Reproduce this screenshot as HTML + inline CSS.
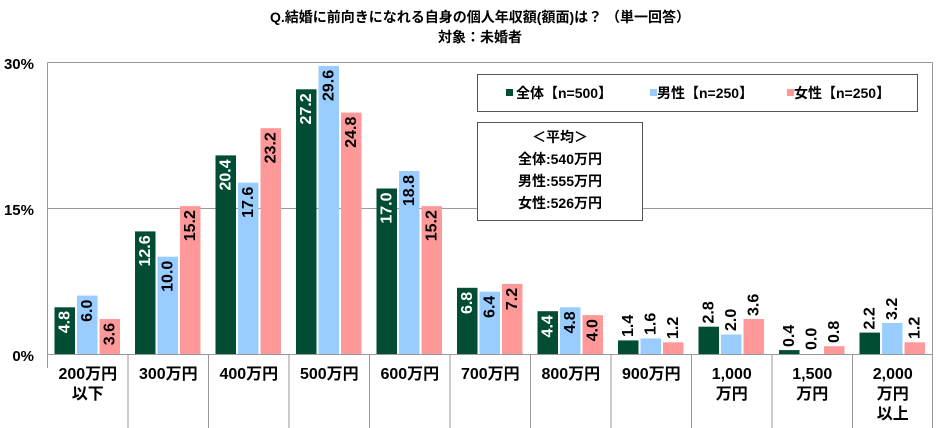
<!DOCTYPE html>
<html><head><meta charset="utf-8"><style>
body{margin:0;background:#fff}
svg{display:block;font-family:"Liberation Sans","Noto Sans CJK JP",sans-serif}
.v{font-size:16px;font-weight:bold}
.w{fill:#fff}.d{fill:#000}
.c{font-size:16px;font-weight:bold;text-anchor:middle}
</style></head><body>
<svg width="940" height="428" viewBox="0 0 940 428">
<text x="480" y="22" font-size="14" font-weight="bold" text-anchor="middle">Q.結婚に前向きになれる自身の個人年収額(額面)は？ （単一回答）</text>
<text x="480" y="42" font-size="14" font-weight="bold" text-anchor="middle">対象：未婚者</text>
<g stroke="#999" stroke-width="1">
<line x1="47.5" y1="62.5" x2="932.5" y2="62.5"/>
<line x1="47.5" y1="208.5" x2="932.5" y2="208.5"/>
<line x1="932.5" y1="62.5" x2="932.5" y2="354"/>
<line x1="47.5" y1="62.5" x2="47.5" y2="368"/>
<line x1="47.5" y1="354.5" x2="932.5" y2="354.5"/>
<line x1="128" y1="354" x2="128" y2="428"/><line x1="208.5" y1="354" x2="208.5" y2="428"/><line x1="289" y1="354" x2="289" y2="428"/><line x1="369.5" y1="354" x2="369.5" y2="428"/><line x1="450" y1="354" x2="450" y2="428"/><line x1="530.5" y1="354" x2="530.5" y2="428"/><line x1="611" y1="354" x2="611" y2="428"/><line x1="691.5" y1="354" x2="691.5" y2="428"/><line x1="772" y1="354" x2="772" y2="428"/><line x1="852.5" y1="354" x2="852.5" y2="428"/><line x1="932.5" y1="354" x2="932.5" y2="428"/>
</g>
<g font-size="15" font-weight="bold" text-anchor="end"><text x="34" y="69">30%</text><text x="34" y="215">15%</text><text x="34" y="361">0%</text></g>
<g>
<rect x="54.5" y="307.3" width="20.5" height="46.7" fill="#004d33"/><rect x="77" y="295.6" width="20.5" height="58.4" fill="#99ccff"/><rect x="99.5" y="319" width="20.5" height="35" fill="#ff9999"/>
<rect x="135" y="231.4" width="20.5" height="122.6" fill="#004d33"/><rect x="157.5" y="256.7" width="20.5" height="97.3" fill="#99ccff"/><rect x="180" y="206.1" width="20.5" height="147.9" fill="#ff9999"/>
<rect x="215.5" y="155.4" width="20.5" height="198.6" fill="#004d33"/><rect x="238" y="182.7" width="20.5" height="171.3" fill="#99ccff"/><rect x="260.5" y="128.2" width="20.5" height="225.8" fill="#ff9999"/>
<rect x="296" y="89.3" width="20.5" height="264.7" fill="#004d33"/><rect x="318.5" y="65.9" width="20.5" height="288.1" fill="#99ccff"/><rect x="341" y="112.6" width="20.5" height="241.4" fill="#ff9999"/>
<rect x="376.5" y="188.5" width="20.5" height="165.5" fill="#004d33"/><rect x="399" y="171" width="20.5" height="183" fill="#99ccff"/><rect x="421.5" y="206.1" width="20.5" height="147.9" fill="#ff9999"/>
<rect x="457" y="287.8" width="20.5" height="66.2" fill="#004d33"/><rect x="479.5" y="291.7" width="20.5" height="62.3" fill="#99ccff"/><rect x="502" y="283.9" width="20.5" height="70.1" fill="#ff9999"/>
<rect x="537.5" y="311.2" width="20.5" height="42.8" fill="#004d33"/><rect x="560" y="307.3" width="20.5" height="46.7" fill="#99ccff"/><rect x="582.5" y="315.1" width="20.5" height="38.9" fill="#ff9999"/>
<rect x="618" y="340.4" width="20.5" height="13.6" fill="#004d33"/><rect x="640.5" y="338.4" width="20.5" height="15.6" fill="#99ccff"/><rect x="663" y="342.3" width="20.5" height="11.7" fill="#ff9999"/>
<rect x="698.5" y="326.7" width="20.5" height="27.3" fill="#004d33"/><rect x="721" y="334.5" width="20.5" height="19.5" fill="#99ccff"/><rect x="743.5" y="319" width="20.5" height="35" fill="#ff9999"/>
<rect x="779" y="350.1" width="20.5" height="3.9" fill="#004d33"/><rect x="824" y="346.2" width="20.5" height="7.8" fill="#ff9999"/>
<rect x="859.5" y="332.6" width="20.5" height="21.4" fill="#004d33"/><rect x="882" y="322.9" width="20.5" height="31.1" fill="#99ccff"/><rect x="904.5" y="342.3" width="20.5" height="11.7" fill="#ff9999"/>
</g>
<g class="v" text-anchor="end" dominant-baseline="central">
<text class="w" transform="translate(64.8,311) rotate(-90)">4.8</text><text class="d" transform="translate(87.3,299.6) rotate(-90)">6.0</text><text class="d" transform="translate(109.8,323) rotate(-90)">3.6</text>
<text class="w" transform="translate(145.3,235.4) rotate(-90)">12.6</text><text class="d" transform="translate(167.8,260.7) rotate(-90)">10.0</text><text class="d" transform="translate(190.3,210.1) rotate(-90)">15.2</text>
<text class="w" transform="translate(225.8,159.4) rotate(-90)">20.4</text><text class="d" transform="translate(248.3,186.7) rotate(-90)">17.6</text><text class="d" transform="translate(270.8,132.2) rotate(-90)">23.2</text>
<text class="w" transform="translate(306.3,93.3) rotate(-90)">27.2</text><text class="d" transform="translate(328.8,69.9) rotate(-90)">29.6</text><text class="d" transform="translate(351.3,116.6) rotate(-90)">24.8</text>
<text class="w" transform="translate(386.8,192.5) rotate(-90)">17.0</text><text class="d" transform="translate(409.3,175) rotate(-90)">18.8</text><text class="d" transform="translate(431.8,210.1) rotate(-90)">15.2</text>
<text class="w" transform="translate(467.3,291.8) rotate(-90)">6.8</text><text class="d" transform="translate(489.8,295.7) rotate(-90)">6.4</text><text class="d" transform="translate(512.3,287.9) rotate(-90)">7.2</text>
<text class="w" transform="translate(547.8,315.2) rotate(-90)">4.4</text><text class="d" transform="translate(570.3,311.3) rotate(-90)">4.8</text><text class="d" transform="translate(592.8,319.1) rotate(-90)">4.0</text>
</g>
<g class="v d" text-anchor="start" dominant-baseline="central">
<text transform="translate(628.3,337) rotate(-90)">1.4</text><text transform="translate(650.8,335) rotate(-90)">1.6</text><text transform="translate(673.3,339) rotate(-90)">1.2</text>
<text transform="translate(708.8,323.5) rotate(-90)">2.8</text><text transform="translate(731.3,331) rotate(-90)">2.0</text><text transform="translate(753.8,316) rotate(-90)">3.6</text>
<text transform="translate(789.3,347) rotate(-90)">0.4</text><text transform="translate(811.8,350) rotate(-90)">0.0</text><text transform="translate(834.3,343) rotate(-90)">0.8</text>
<text transform="translate(869.8,329.5) rotate(-90)">2.2</text><text transform="translate(892.3,320) rotate(-90)">3.2</text><text transform="translate(914.8,339) rotate(-90)">1.2</text>
</g>
<g class="c">
<text x="87.8" y="379">200万円</text><text x="87.8" y="399">以下</text>
<text x="168.3" y="379">300万円</text>
<text x="248.8" y="379">400万円</text>
<text x="329.3" y="379">500万円</text>
<text x="409.8" y="379">600万円</text>
<text x="490.3" y="379">700万円</text>
<text x="570.8" y="379">800万円</text>
<text x="651.3" y="379">900万円</text>
<text x="731.8" y="379">1,000</text><text x="731.8" y="399">万円</text>
<text x="812.3" y="379">1,500</text><text x="812.3" y="399">万円</text>
<text x="892.8" y="379">2,000</text><text x="892.8" y="399">万円</text><text x="892.8" y="419">以上</text>
</g>
<rect x="477.5" y="74.5" width="440" height="37" fill="#fff" stroke="#555"/>
<g font-size="14" font-weight="bold">
<rect x="506" y="89" width="7" height="7" fill="#004d33"/><text x="516" y="98">全体【n=500】</text>
<rect x="650" y="89" width="7" height="7" fill="#99ccff"/><text x="657" y="98">男性【n=250】</text>
<rect x="787" y="89" width="7" height="7" fill="#ff9999"/><text x="794" y="98">女性【n=250】</text>
</g>
<rect x="477.5" y="122.5" width="165" height="98" fill="#fff" stroke="#555"/>
<g font-size="14" font-weight="bold" text-anchor="middle">
<text x="560" y="142">＜平均＞</text>
<text x="560" y="164">全体:540万円</text>
<text x="560" y="186">男性:555万円</text>
<text x="560" y="208">女性:526万円</text>
</g>
</svg>
</body></html>
